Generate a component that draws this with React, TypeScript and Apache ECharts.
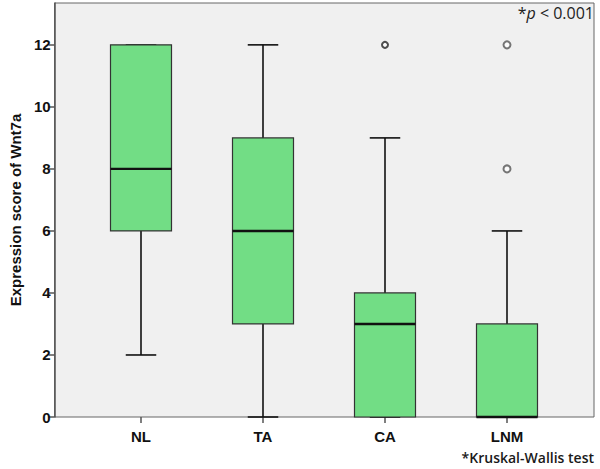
import React, { useEffect, useRef } from "react";
import * as echarts from "echarts";

const categories = ["NL", "TA", "CA", "LNM"];
// [min whisker, Q1, median, Q3, max whisker]
const boxStats = [
  [2, 6, 8, 12, 12],
  [0, 3, 6, 9, 12],
  [0, 0, 3, 4, 9],
  [0, 0, 0, 3, 6],
];
const outliersStrong = [[2, 12]];
const outliersLight = [
  [3, 12],
  [3, 8],
];
const yTicks = [0, 2, 4, 6, 8, 10, 12];

export default function App() {
  const ref = useRef<HTMLDivElement>(null);
  useEffect(() => {
    if (!ref.current) return;
    const chart = echarts.init(ref.current, null, { renderer: "svg" });
    const font = "'Liberation Sans', Arial, sans-serif";
    const yMax = 13.35;
    const option: any = {
      animation: false,
      backgroundColor: "#ffffff",
      grid: [
        {
          left: 52,
          right: 6,
          top: 3,
          bottom: 52,
          show: true,
          backgroundColor: "#f0f0f0",
          borderColor: "#666666",
          borderWidth: 1,
        },
        { left: 80, right: 32, top: 3, bottom: 52 },
      ],
      xAxis: [
        { gridIndex: 0, type: "value", min: 0, max: 1, show: false },
        {
          gridIndex: 1,
          type: "category",
          data: categories,
          axisLine: { show: false },
          axisTick: {
            show: true,
            alignWithLabel: true,
            length: 6,
            lineStyle: { color: "#555555", width: 1.5 },
          },
          axisLabel: {
            color: "#111111",
            fontFamily: font,
            fontWeight: "bold",
            fontSize: 15,
            margin: 12,
          },
          splitLine: { show: false },
        },
      ],
      yAxis: [
        {
          gridIndex: 0,
          type: "value",
          min: 0,
          max: yMax,
          name: "Expression score of Wnt7a",
          nameLocation: "middle",
          nameGap: 31,
          nameTextStyle: {
            color: "#111111",
            fontFamily: font,
            fontWeight: "bold",
            fontSize: 15,
          },
          axisLine: { show: true, lineStyle: { color: "#555555", width: 1.5 } },
          axisTick: {
            show: true,
            length: 6,
            customValues: yTicks,
            lineStyle: { color: "#555555", width: 1.5 },
          },
          axisLabel: {
            customValues: yTicks,
            color: "#111111",
            fontFamily: font,
            fontWeight: "bold",
            fontSize: 15,
            margin: 4,
          },
          splitLine: { show: false },
        },
        { gridIndex: 1, type: "value", min: 0, max: yMax, show: false },
      ],
      series: [
        {
          type: "custom",
          xAxisIndex: 1,
          yAxisIndex: 1,
          data: boxStats.map((s, i) => [i, ...s]),
          renderItem: (params: any, api: any) => {
            const x = api.value(0);
            const lo = api.coord([x, api.value(1)]);
            const q1 = api.coord([x, api.value(2)]);
            const med = api.coord([x, api.value(3)]);
            const q3 = api.coord([x, api.value(4)]);
            const hi = api.coord([x, api.value(5)]);
            const bw = api.size([1, 0])[0] * 0.5;
            const cw = bw * 0.5;
            const cx = q1[0];
            const ws = { stroke: "#111111", lineWidth: 1.6 };
            return {
              type: "group",
              children: [
                { type: "line", shape: { x1: cx, y1: q3[1], x2: cx, y2: hi[1] }, style: ws },
                { type: "line", shape: { x1: cx, y1: lo[1], x2: cx, y2: q1[1] }, style: ws },
                { type: "line", shape: { x1: cx - cw / 2, y1: hi[1], x2: cx + cw / 2, y2: hi[1] }, style: ws },
                { type: "line", shape: { x1: cx - cw / 2, y1: lo[1], x2: cx + cw / 2, y2: lo[1] }, style: ws },
                {
                  type: "rect",
                  shape: { x: cx - bw / 2, y: q3[1], width: bw, height: q1[1] - q3[1] },
                  style: { fill: "#72dd85", stroke: "#333333", lineWidth: 1.2 },
                },
                {
                  type: "line",
                  shape: { x1: cx - bw / 2, y1: med[1], x2: cx + bw / 2, y2: med[1] },
                  style: { stroke: "#111111", lineWidth: 2.4 },
                },
              ],
            };
          },
          z: 2,
        },
        {
          type: "scatter",
          xAxisIndex: 1,
          yAxisIndex: 1,
          data: outliersStrong,
          symbol: "emptyCircle",
          symbolSize: 6,
          itemStyle: { color: "#222222", borderColor: "#222222", borderWidth: 2 },
          z: 3,
        },
        {
          type: "scatter",
          xAxisIndex: 1,
          yAxisIndex: 1,
          data: outliersLight,
          symbol: "emptyCircle",
          symbolSize: 7,
          itemStyle: { color: "#555555", borderColor: "#555555", borderWidth: 1.2 },
          z: 3,
        },
      ],
      graphic: [
        {
          type: "text",
          right: 6,
          top: 5,
          style: {
            text: "{n|*}{i|p}{n| < 0.001}",
            rich: {
              n: { fontFamily: "'Open Sans', sans-serif", fontSize: 16, fill: "#222222" },
              i: { fontFamily: "'Open Sans', sans-serif", fontSize: 16, fontStyle: "italic", fill: "#222222" },
            },
          },
        },
        {
          type: "text",
          right: 6,
          top: 450,
          style: {
            text: "*Kruskal-Wallis test",
            fontFamily: "'Open Sans', sans-serif",
            fontWeight: 600,
            fontSize: 14,
            fill: "#1a1a1a",
          },
        },
      ],
    };
    chart.setOption(option);
    return () => chart.dispose();
  }, []);
  return (
    <div
      ref={ref}
      style={{ position: "fixed", left: 0, top: 0, width: 600, height: 469 }}
    />
  );
}
